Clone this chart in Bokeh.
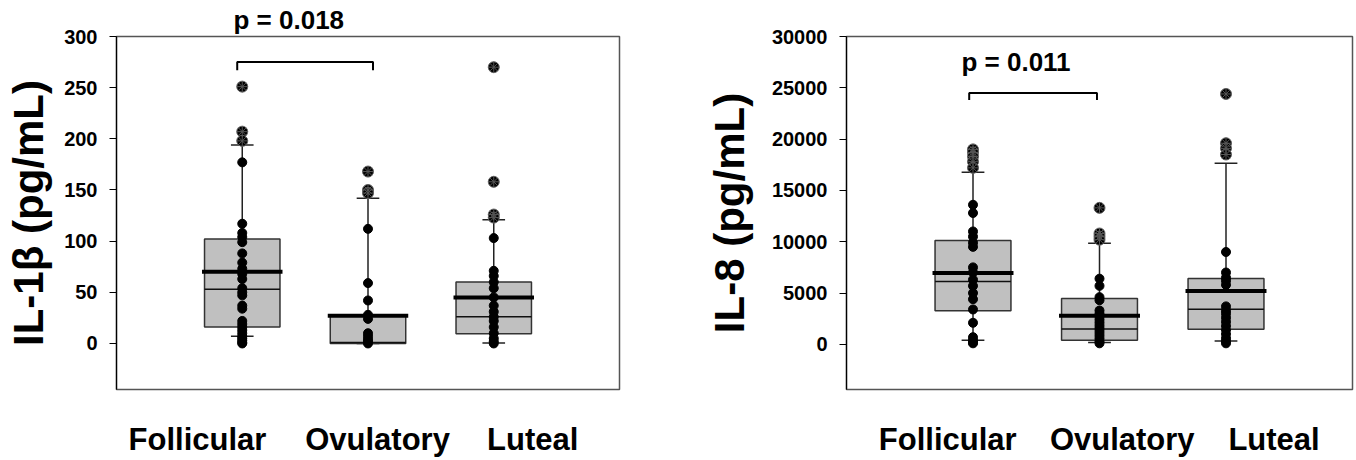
from bokeh.plotting import figure
from bokeh.layouts import row
from bokeh.models import FixedTicker, Label, Range1d, ColumnDataSource
from bokeh.embed import file_html
from bokeh.resources import INLINE

# ---------------- data ----------------
categories = ["Follicular", "Ovulatory", "Luteal"]
cat_x = [1, 2, 3]

# IL-1beta (pg/mL)
il1b_q1 = [16, 0, 9.5]
il1b_median = [53, 1, 26]
il1b_mean = [70, 27, 45]
il1b_q3 = [102, 28, 60]
il1b_lo = [7, 0, 0.5]
il1b_hi = [194, 142, 121]
il1b_points = [
    [177, 117, 108, 104, 99, 88, 79, 73, 68, 63, 54, 50, 47, 37, 34, 22, 19, 16, 13, 10, 7, 5, 3, 1, 0],
    [112, 59, 42, 28, 24, 10, 7, 4, 2, 0],
    [103, 71, 66, 60, 54, 45, 37, 31, 26, 22, 16, 10, 5, 2, 0],
]
il1b_outliers = [
    [251, 207, 198],
    [168, 150, 147],
    [270, 158, 126, 123],
]
il1b_ticks = [0, 50, 100, 150, 200, 250, 300]
il1b_p = "p = 0.018"

# IL-8 (pg/mL)
il8_q1 = [3270, 390, 1460]
il8_median = [6120, 1490, 3430]
il8_mean = [6960, 2790, 5210]
il8_q3 = [10130, 4470, 6410]
il8_lo = [390, 190, 320]
il8_hi = [16770, 9840, 17640]
il8_points = [
    [13600, 12800, 11000, 10500, 9900, 9500, 7500, 7000, 6300, 5700, 5000, 4400, 3400, 2100, 700, 400, 200, 100],
    [6400, 5700, 4600, 4300, 3300, 3000, 2700, 2400, 2100, 1800, 1500, 1200, 900, 600, 300, 100],
    [9000, 7000, 6500, 6200, 5800, 3700, 3300, 3000, 2600, 2200, 1800, 1400, 1000, 600, 300, 100],
]
il8_outliers = [
    [19000, 18700, 18300, 17800, 17200],
    [13300, 10800, 10500, 10200],
    [24400, 19600, 19100, 18500],
]
il8_ticks = [0, 5000, 10000, 15000, 20000, 25000, 30000]
il8_p = "p = 0.011"

FONT = "Liberation Sans"


def make_panel(title, q1, med, mean, q3, lo, hi, points, outliers, ticks, y_start,
               br_x, br_y, br_drop, label_pos, width, border_left, border_right,
               title_standoff):
    p = figure(width=width, height=459, output_backend="svg", toolbar_location=None,
               x_range=Range1d(0, 4), y_range=Range1d(y_start, ticks[-1]),
               min_border_left=border_left, min_border_right=border_right,
               min_border_top=36, min_border_bottom=70)
    p.grid.visible = False
    p.outline_line_color = "#555555"
    p.outline_line_width = 1.5
    p.background_fill_color = "white"
    p.border_fill_color = "white"

    # y axis
    ya = p.yaxis[0]
    ya.ticker = FixedTicker(ticks=ticks)
    ya.minor_tick_line_color = None
    ya.major_tick_out = 7
    ya.major_tick_in = 0
    ya.major_tick_line_color = "black"
    ya.major_tick_line_width = 1.2
    ya.axis_line_color = "black"
    ya.axis_line_width = 1.2
    ya.major_label_text_font = FONT
    ya.major_label_text_font_style = "bold"
    ya.major_label_text_font_size = "20px"
    ya.major_label_text_color = "black"
    ya.major_label_standoff = 12
    ya.axis_label = title
    ya.axis_label_text_font = FONT
    ya.axis_label_text_font_style = "bold"
    ya.axis_label_text_font_size = "42px"
    ya.axis_label_text_color = "black"
    ya.axis_label_standoff = title_standoff

    # x axis: category names
    xa = p.xaxis[0]
    xa.ticker = FixedTicker(ticks=label_pos)
    xa.major_label_overrides = {pos: name for pos, name in zip(label_pos, categories)}
    xa.axis_line_color = None
    xa.major_tick_line_color = None
    xa.minor_tick_line_color = None
    xa.major_label_text_font = FONT
    xa.major_label_text_font_style = "bold"
    xa.major_label_text_font_size = "31px"
    xa.major_label_text_color = "black"
    xa.major_label_standoff = 26

    src = ColumnDataSource(dict(x=cat_x, q1=q1, med=med, mean=mean, q3=q3, lo=lo, hi=hi,
                                xl=[c - 0.3 for c in cat_x], xr=[c + 0.3 for c in cat_x],
                                xml=[c - 0.32 for c in cat_x], xmr=[c + 0.32 for c in cat_x],
                                xcl=[c - 0.09 for c in cat_x], xcr=[c + 0.09 for c in cat_x]))
    # whiskers
    p.segment(x0="x", y0="q3", x1="x", y1="hi", source=src, line_color="#222222", line_width=1.5)
    p.segment(x0="x", y0="q1", x1="x", y1="lo", source=src, line_color="#222222", line_width=1.5)
    p.segment(x0="xcl", y0="hi", x1="xcr", y1="hi", source=src, line_color="#222222", line_width=1.5)
    p.segment(x0="xcl", y0="lo", x1="xcr", y1="lo", source=src, line_color="#222222", line_width=1.5)
    # boxes
    p.vbar(x="x", width=0.6, bottom="q1", top="q3", source=src,
           fill_color="#c0c0c0", line_color="#333333", line_width=1.5)
    # median (thin) and mean (thick)
    p.segment(x0="xl", y0="med", x1="xr", y1="med", source=src, line_color="#111111", line_width=1.5)
    p.segment(x0="xml", y0="mean", x1="xmr", y1="mean", source=src, line_color="black", line_width=4)

    # data points
    px, py = [], []
    for c, vals in zip(cat_x, points):
        px += [c] * len(vals)
        py += vals
    p.scatter(px, py, marker="circle", size=9, fill_color="black", line_color="black")
    ox, oy = [], []
    for c, vals in zip(cat_x, outliers):
        ox += [c] * len(vals)
        oy += vals
    p.scatter(ox, oy, marker="circle", size=11, fill_color="black", line_color="#666666", line_width=1)
    p.scatter(ox, oy, marker="asterisk", size=11, line_color="#555555", line_width=1)

    # significance bracket
    p.line([br_x[0], br_x[0], br_x[1], br_x[1]],
           [br_y - br_drop, br_y, br_y, br_y - br_drop], line_color="black", line_width=2)
    return p


p1 = make_panel("IL-1β (pg/mL)", il1b_q1, il1b_median, il1b_mean, il1b_q3, il1b_lo, il1b_hi,
                il1b_points, il1b_outliers, il1b_ticks, -45,
                [0.96, 2.04], 275, 8, [0.644, 2.076, 3.31],
                width=700, border_left=116, border_right=81, title_standoff=9)
# p-value above the frame of the left panel
p1.title.text = il1b_p
p1.title.align = "left"
p1.title.offset = 117
p1.title.standoff = 3
p1.title.text_font = FONT
p1.title.text_font_style = "bold"
p1.title.text_font_size = "26px"
p1.title.text_color = "black"

p2 = make_panel("IL-8 (pg/mL)", il8_q1, il8_median, il8_mean, il8_q3, il8_lo, il8_hi,
                il8_points, il8_outliers, il8_ticks, -4400,
                [0.97, 1.98], 24500, 700, [0.80, 2.18, 3.38],
                width=654, border_left=146, border_right=2, title_standoff=16)
p2.add_layout(Label(x=1.34, y=27500, text=il8_p, text_align="center", text_baseline="middle",
                    text_font=FONT, text_font_style="bold", text_font_size="26px",
                    text_color="black"))

layout = row(p1, p2)
open("out.html", "w").write(file_html(layout, INLINE))
